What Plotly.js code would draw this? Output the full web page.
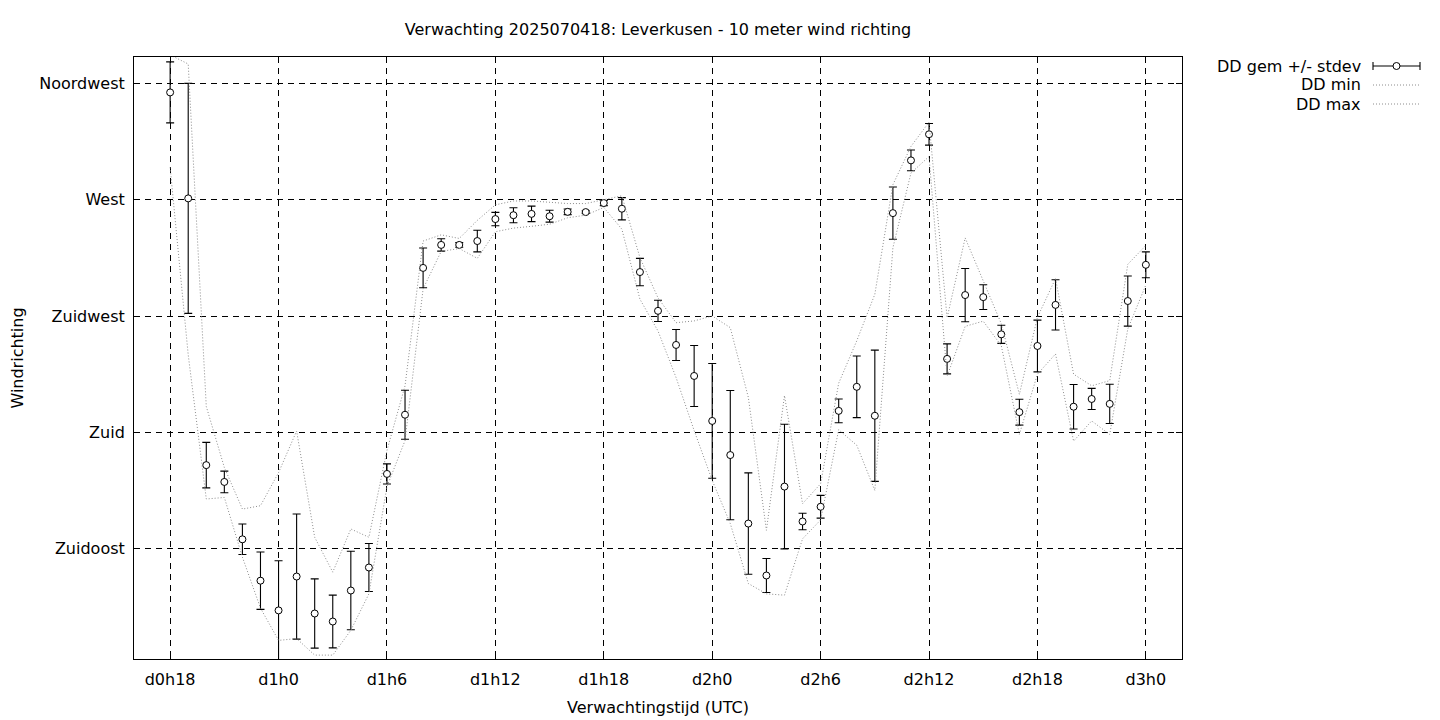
<!DOCTYPE html>
<html>
<head>
<meta charset="utf-8">
<script src="https://cdn.plot.ly/plotly-3.0.1.min.js"></script>
<style>html,body{margin:0;padding:0;background:#fff}#chart{width:1440px;height:720px}</style>
</head>
<body>
<div id="chart"></div>
<script>
// Forecast hour (hours after d0h0)
const hours = [18,19,20,21,22,23,24,25,26,27,28,29,30,31,32,33,34,35,36,37,38,39,40,41,42,43,44,45,
  46,47,48,49,50,51,52,53,54,55,56,57,58,59,60,61,62,63,64,65,66,67,68,69,70,71,72];
// mean wind direction (degrees)
const ddMean = [311.5,270.5,167.3,160.8,138.6,122.6,111.1,124.2,109.9,106.8,118.8,127.7,163.9,186.8,
  243.6,252.5,252.5,254.0,262.5,264.0,264.5,263.6,265.3,265.2,268.7,266.5,242.0,227.0,213.8,201.8,
  184.4,171.2,144.7,124.6,159.0,145.5,151.2,188.3,197.6,186.4,264.8,285.2,295.3,208.4,233.1,232.3,
  217.9,187.8,213.4,229.3,189.9,192.9,191.0,230.8,244.8];
// standard deviation (degrees)
const ddStd = [11.8,44.5,8.8,4.2,5.9,11.1,19.2,24.2,13.4,10.2,15.2,9.3,3.9,9.5,7.7,2.4,0.9,4.2,2.6,2.9,
  3.0,2.3,1.1,0.5,1.0,4.3,5.3,4.1,6.0,11.8,22.2,25.0,19.6,6.6,24.1,3.2,4.4,4.6,11.9,25.4,10.1,4.0,4.2,
  5.8,10.3,4.8,3.5,5.0,10.0,9.7,8.6,4.1,7.6,9.7,5.0];
// minimum direction (degrees)
const ddMin = [282.5,210,154.2,154.8,131.7,112,99.5,100.2,93.8,93.8,103.4,117.5,159,176.8,235.5,250,
  251.1,247.3,257.6,259,259.7,260.5,263,264,267,258.6,231.5,219.2,201.2,180.7,161.4,144.7,121.5,117.5,
  117,138.8,146.1,181,175,157.5,251.4,280.3,286.7,201.7,221,223,213.5,179.2,202.5,210.3,176.6,184.4,
  179.2,220,237];
// maximum direction (degrees)
const ddMax = [326,322.5,190,166.4,150.3,151.6,164.4,180.5,139.4,125.9,142.6,139.4,173,198,254,256.4,
  255,262,268,269.5,269.5,269,268.5,268.5,270,271.5,247.6,232,222.4,223.1,225,220.5,193.5,142.1,194.2,
  152.4,160.1,199,215.4,233.4,275.8,290.6,300,224.3,255.2,238.5,222,194.7,224.5,239.5,202.5,198,200,
  245,252.3];

const tickHours = [18,24,30,36,42,48,54,60,66,72];
const tickLabels = ['d0h18','d1h0','d1h6','d1h12','d1h18','d2h0','d2h6','d2h12','d2h18','d3h0'];
const dirTicks = [135,180,225,270,315];
const dirLabels = ['Zuidoost','Zuid','Zuidwest','West','Noordwest'];
const seriesNames = ['DD gem +/- stdev','DD min','DD max'];

const FONT = 'DejaVu Sans, sans-serif';
const FS = 16;
const GRAY = '#8c8c8c';
const DOT = '1px,2px';

const traces = [
  {
    x: hours, y: ddMean, name: seriesNames[0], type: 'scatter', mode: 'markers',
    marker: {symbol: 'circle', size: 7, color: '#ffffff', line: {color: '#000', width: 1}},
    error_y: {type: 'data', array: ddStd, visible: true, color: '#000', thickness: 1.1, width: 4},
    showlegend: false
  },
  {
    x: hours, y: ddMin, name: seriesNames[1], type: 'scatter', mode: 'lines',
    line: {color: GRAY, width: 1, dash: DOT}, showlegend: false
  },
  {
    x: hours, y: ddMax, name: seriesNames[2], type: 'scatter', mode: 'lines',
    line: {color: GRAY, width: 1, dash: DOT}, showlegend: false
  }
];

// legend drawn gnuplot-style (text right-aligned, sample on the right side)
const L = 134, R = 1182, T = 57, B = 659;
const px = v => (v - L) / (R - L);
const py = v => (B - v) / (B - T);
const rowY = [66, 85, 104];
const sx0 = px(1373), sx1 = px(1420), scx = px(1396.5);
const shapes = [];
const annotations = [];
seriesNames.forEach((nm, i) => {
  annotations.push({xref: 'paper', yref: 'paper', x: px(1363), y: py(rowY[i]), xanchor: 'right',
    yanchor: 'middle', showarrow: false, text: nm, font: {family: FONT, size: FS, color: '#000'}});
});
shapes.push({type: 'line', xref: 'paper', yref: 'paper', x0: sx0, x1: sx1, y0: py(rowY[0]), y1: py(rowY[0]),
  line: {color: '#000', width: 1.1}});
shapes.push({type: 'line', xref: 'paper', yref: 'paper', x0: sx0, x1: sx0, y0: py(rowY[0] - 4), y1: py(rowY[0] + 4),
  line: {color: '#000', width: 1.1}});
shapes.push({type: 'line', xref: 'paper', yref: 'paper', x0: sx1, x1: sx1, y0: py(rowY[0] - 4), y1: py(rowY[0] + 4),
  line: {color: '#000', width: 1.1}});
shapes.push({type: 'circle', xref: 'paper', yref: 'paper', xsizemode: 'pixel', ysizemode: 'pixel',
  xanchor: scx, yanchor: py(rowY[0]), x0: -3.5, x1: 3.5, y0: -3.5, y1: 3.5,
  fillcolor: '#fff', line: {color: '#000', width: 1}});
[1, 2].forEach(i => {
  shapes.push({type: 'line', xref: 'paper', yref: 'paper', x0: sx0, x1: sx1, y0: py(rowY[i]), y1: py(rowY[i]),
    line: {color: GRAY, width: 1, dash: DOT}});
});

const layout = {
  width: 1440, height: 720,
  margin: {l: L, r: 1440 - R, t: T, b: 720 - B, pad: 0},
  paper_bgcolor: '#fff', plot_bgcolor: '#fff',
  font: {family: FONT, size: FS, color: '#000'},
  showlegend: false,
  title: {text: 'Verwachting 2025070418: Leverkusen - 10 meter wind richting',
    font: {family: FONT, size: FS, color: '#000'},
    xref: 'paper', x: 0.5, xanchor: 'center', yref: 'container', y: 1 - 29.5 / 720, yanchor: 'middle'},
  xaxis: {
    range: [16, 74], tickmode: 'array', tickvals: tickHours, ticktext: tickLabels,
    showgrid: true, gridcolor: '#000', gridwidth: 1, griddash: '6px,5px',
    zeroline: false, showline: true, linecolor: '#000', linewidth: 1, mirror: 'ticks',
    ticks: 'inside', ticklen: 6, tickcolor: '#000', ticklabelstandoff: 6,
    tickfont: {family: FONT, size: FS, color: '#000'},
    title: {text: 'Verwachtingstijd (UTC)', font: {family: FONT, size: FS, color: '#000'}, standoff: 13},
    automargin: false
  },
  yaxis: {
    range: [92.3, 325.2], tickmode: 'array', tickvals: dirTicks, ticktext: dirLabels,
    showgrid: true, gridcolor: '#000', gridwidth: 1, griddash: '6px,5px',
    zeroline: false, showline: true, linecolor: '#000', linewidth: 1, mirror: 'ticks',
    ticks: 'inside', ticklen: 6, tickcolor: '#000', ticklabelstandoff: 5,
    tickfont: {family: FONT, size: FS, color: '#000'},
    title: {text: 'Windrichting', font: {family: FONT, size: FS, color: '#000'}, standoff: 11},
    automargin: false
  },
  shapes: shapes,
  annotations: annotations
};

Plotly.newPlot('chart', traces, layout, {displayModeBar: false, staticPlot: true});
</script>
</body>
</html>
